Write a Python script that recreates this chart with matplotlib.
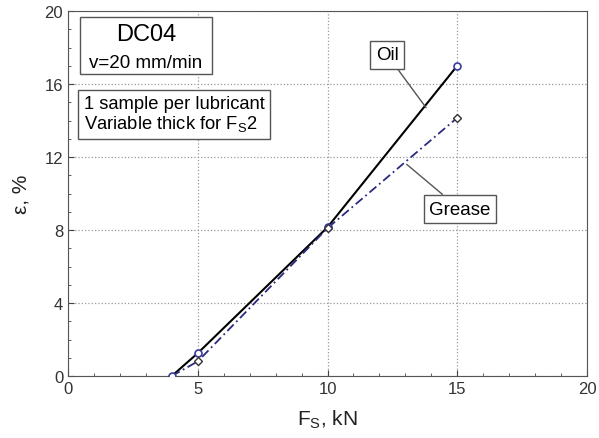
import numpy as np
import matplotlib.pyplot as plt
from matplotlib.ticker import MultipleLocator

plt.rcParams['font.family'] = ['Liberation Sans', 'DejaVu Sans']

# données
fs_oil = [4, 5, 10, 15]
eps_oil = [0.0, 1.25, 8.15, 17.0]
fs_grease = [4, 5, 10, 15]
eps_grease = [0.0, 0.8, 8.1, 14.15]

fig = plt.figure(figsize=(5.99, 4.39), dpi=100)
ax = fig.add_axes([68/599, 1 - 377/439, (587-68)/599, (377-12)/439])

ax.plot(fs_oil, eps_oil, color='black', lw=1.5, zorder=3)
ax.plot(fs_oil, eps_oil, ls='none', marker='o', ms=5, mfc='white',
        mec='#3a3aa0', mew=1.2, zorder=4)
ax.plot(fs_grease, eps_grease, color='#2a2a80', lw=1.3, ls=(0, (5, 2, 1, 2)), zorder=3)
ax.plot(fs_grease[1:], eps_grease[1:], ls='none', marker='D', ms=4, mfc='white',
        mec='#333333', mew=1.0, zorder=4)

ax.set_xlim(0, 20)
ax.set_ylim(0, 20)
ax.xaxis.set_major_locator(MultipleLocator(5))
ax.yaxis.set_major_locator(MultipleLocator(4))
ax.yaxis.set_minor_locator(MultipleLocator(1))
ax.xaxis.set_minor_locator(MultipleLocator(1))
ax.tick_params(which='both', direction='in', labelsize=12, colors='#444444',
               labelcolor='#333333')
ax.tick_params(which='major', length=4)
ax.tick_params(which='minor', length=2.5)
ax.grid(True, which='major', ls=':', color='#999999', lw=0.9)
for s in ax.spines.values():
    s.set_color('#555555')

ax.set_xlabel('F$_\\mathregular{S}$, kN', fontsize=15, color='#222222', labelpad=8)
ax.set_ylabel('ε, %', fontsize=15, color='#222222', labelpad=10)

box = dict(boxstyle='square,pad=0.3', fc='white', ec='#555555', lw=1)
ax.add_patch(plt.Rectangle((0.46, 16.55), 5.08, 3.12, fc='white', ec='#555555', lw=1, zorder=4))
ax.text(3.0, 18.75, 'DC04', fontsize=17, ha='center', va='center', zorder=5)
ax.text(3.0, 17.2, 'v=20 mm/min', fontsize=13.5, ha='center', va='center', zorder=5)
ax.text(0.6, 14.35, '1 sample per lubricant\nVariable thick for F$_\\mathregular{S}$2',
        fontsize=13.2, ha='left', va='center', linespacing=1.1, bbox=box, zorder=5)

ax.annotate('Oil', xy=(13.8, 14.7), xytext=(12.3, 17.6), fontsize=13.5,
            ha='center', va='center', bbox=box,
            arrowprops=dict(arrowstyle='-', color='#555555', lw=1, shrinkA=0, shrinkB=0))
ax.annotate('Grease', xy=(13.05, 11.6), xytext=(15.1, 9.15), fontsize=13.5,
            ha='center', va='center', bbox=box,
            arrowprops=dict(arrowstyle='-', color='#555555', lw=1, shrinkA=0, shrinkB=0))

fig.savefig('out.png', dpi=100)
